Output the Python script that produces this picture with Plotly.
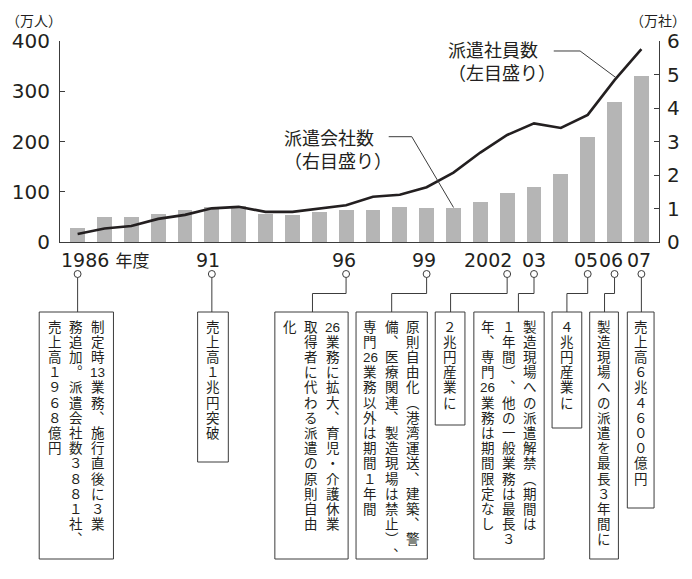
import plotly.graph_objects as go

# ---------------- data ----------------
years = list(range(1986, 2008))
workers = [16, 27, 32, 46, 54, 67, 70, 60, 60, 66, 73, 90, 94, 109, 138, 178, 213, 236, 227, 253, 322, 384]      # 派遣社員数（万人, 左目盛り）
companies = [0.41, 0.75, 0.75, 0.84, 0.96, 1.04, 1.07, 0.84, 0.81, 0.90, 0.96, 0.96, 1.04, 1.01, 1.01, 1.19,
             1.47, 1.64, 2.03, 3.13, 4.18, 4.96]                                                                # 派遣会社数（万社, 右目盛り）

left_ticks = [0, 100, 200, 300, 400]
right_ticks = [0, 1, 2, 3, 4, 5, 6]

label_years = [1986, 1991, 1996, 1999, 2002, 2003, 2005, 2006, 2007]
label_texts = ["1986", "91", "96", "99", "2002", "03", "05", "06", "07"]

note_years = [1986, 1991, 1996, 1999, 2002, 2003, 2005, 2006, 2007]
note_columns = [
    ["制定時13業務、施行直後に３業", "務追加。派遣会社数３８８１社、", "売上高１９６８億円"],
    ["売上高１兆円突破"],
    ["26業務に拡大、育児・介護休業", "取得者に代わる派遣の原則自由", "化"],
    ["原則自由化（港湾運送、建築、警", "備、医療関連、製造現場は禁止）、", "専門26業務以外は期間１年間"],
    ["２兆円産業に"],
    ["製造現場への派遣解禁（期間は", "１年間）、他の一般業務は最長３", "年、専門26業務は期間限定なし"],
    ["４兆円産業に"],
    ["製造現場への派遣を最長３年間に"],
    ["売上高６兆４６００億円"],
]

# ---------------- layout geometry (pixels) ----------------
W, H = 692, 579
L, R, T, B = 58, 29, 41, 337
PW, PH = W - L - R, H - T - B
X0, X1 = 1985.344, 2007.656
INK = "#231f20"
LINEC = "#3c3c3c"
JP = "Liberation Sans, Noto Sans CJK JP"
NUM = "DejaVu Sans"


def xp(px):
    return (px - L) / PW


def yp(py):
    return (T + PH - py) / PH


def year_px(yr):
    return L + (yr - X0) / (X1 - X0) * PW


fig = go.Figure()
fig.add_trace(go.Bar(x=years, y=companies, yaxis="y", marker=dict(color="#b5b5b5", line=dict(width=0)),
                     width=0.553, name="派遣会社数"))
fig.add_trace(go.Scatter(x=years, y=workers, yaxis="y2", mode="lines",
                         line=dict(color=INK, width=2.6), name="派遣社員数"))

annotations = []
shapes = []

# axis unit labels
annotations.append(dict(text="（万人）", x=xp(32), y=yp(21), xref="paper", yref="paper", showarrow=False,
                        xanchor="center", yanchor="middle", font=dict(family=JP, size=14, color=INK)))
annotations.append(dict(text="（万社）", x=xp(662), y=yp(21), xref="paper", yref="paper", showarrow=False,
                        xanchor="center", yanchor="middle", font=dict(family=JP, size=14, color=INK)))

# series labels + leaders
annotations.append(dict(text="派遣社員数<br>（左目盛り）", x=xp(448), y=yp(62.5), xref="paper", yref="paper",
                        showarrow=False, xanchor="left", yanchor="middle", align="left",
                        font=dict(family=JP, size=18, color=INK)))
annotations.append(dict(text="派遣会社数<br>（右目盛り）", x=xp(282), y=yp(150.5), xref="paper", yref="paper",
                        showarrow=False, xanchor="left", yanchor="middle", align="left",
                        font=dict(family=JP, size=18, color=INK)))


def path(pts):
    return "M " + " L ".join(f"{xp(a):.5f},{yp(b):.5f}" for a, b in pts)


shapes.append(dict(type="path", xref="paper", yref="paper", path=path([(556.7, 51), (583.3, 51), (620, 78)]),
                   line=dict(color=LINEC, width=1)))
shapes.append(dict(type="path", xref="paper", yref="paper", path=path([(390, 136.7), (413.3, 136.7), (455.5, 207.5)]),
                   line=dict(color=LINEC, width=1)))

# year labels below axis
label_shift = [None, -4, -2, -3, -19, -0.5, -2, -3.5, -2]
for yr, txt, sh in zip(label_years, label_texts, label_shift):
    if sh is None:
        annotations.append(dict(text="1986 <span style='font-size:17px'>年度</span>", x=xp(57), y=yp(260),
                                xref="paper", yref="paper", showarrow=False, xanchor="left", yanchor="middle",
                                font=dict(family=NUM + ", Noto Sans CJK JP", size=19, color=INK)))
    else:
        annotations.append(dict(text=txt, x=xp(year_px(yr) + sh), y=yp(260), xref="paper", yref="paper",
                                showarrow=False, xanchor="center", yanchor="middle",
                                font=dict(family=NUM, size=19, color=INK)))

# note boxes: x0, x1, bottom, landing x (None = straight down)
boxes = [
    (37, 112, 559, None),
    (197, 228, 462, None),
    (275, 349, 559, 313),
    (357, 429, 559, 393),
    (437, 467, 425, 452.5),
    (476, 547, 559, 521),
    (555, 585, 428, 570),
    (593, 622, 559, 608),
    (631, 658, 508, None),
]
BOX_TOP = 312
CIRC_Y, CIRC_R = 274, 3.5
ELBOW_Y = 293.5
COL_PITCH = 21.7
FS = 13.5
CHAR_PITCH = 15.2
FIRST_CENTER = 327

VMAP = {"、": "︑", "。": "︒", "（": "︵", "）": "︶"}


def cells(s):
    out = []
    i = 0
    while i < len(s):
        c = s[i]
        if c.isascii() and c.isdigit():
            j = i
            while j < len(s) and s[j].isascii() and s[j].isdigit():
                j += 1
            out.append(s[i:j])
            i = j
        else:
            out.append(VMAP.get(c, c))
            i += 1
    return out


for yr, cols, (bx0, bx1, bby, land) in zip(note_years, note_columns, boxes):
    cx = year_px(yr)
    shapes.append(dict(type="circle", xref="paper", yref="paper",
                       x0=xp(cx - CIRC_R), x1=xp(cx + CIRC_R), y0=yp(CIRC_Y + CIRC_R), y1=yp(CIRC_Y - CIRC_R),
                       line=dict(color=LINEC, width=1), fillcolor="white"))
    if land is None:
        pts = [(cx, CIRC_Y + CIRC_R), (cx, BOX_TOP)]
    else:
        pts = [(cx, CIRC_Y + CIRC_R), (cx, ELBOW_Y), (land, ELBOW_Y), (land, BOX_TOP)]
    shapes.append(dict(type="path", xref="paper", yref="paper", path=path(pts), line=dict(color=LINEC, width=1)))
    shapes.append(dict(type="rect", xref="paper", yref="paper", x0=xp(bx0), x1=xp(bx1), y0=yp(bby), y1=yp(BOX_TOP),
                       line=dict(color=LINEC, width=1), fillcolor="rgba(0,0,0,0)"))
    center = (bx0 + bx1) / 2
    n = len(cols)
    for k, col in enumerate(cols):
        colx = center + (n - 1) / 2 * COL_PITCH - k * COL_PITCH
        for i, c in enumerate(cells(col)):
            annotations.append(dict(text=c, x=xp(colx), y=yp(FIRST_CENTER + i * CHAR_PITCH),
                                    xref="paper", yref="paper", showarrow=False,
                                    xanchor="center", yanchor="middle",
                                    font=dict(family=JP, size=FS, color=INK)))

fig.update_layout(
    width=W, height=H, autosize=False,
    margin=dict(l=L, r=R, t=T, b=B, pad=0),
    paper_bgcolor="white", plot_bgcolor="white",
    showlegend=False, bargap=0,
    xaxis=dict(range=[X0, X1], showticklabels=False, ticks="", showgrid=False, zeroline=False,
               showline=True, linecolor=LINEC, linewidth=1),
    yaxis=dict(range=[0, 6], side="right", tickvals=right_ticks, ticks="inside", ticklen=5, tickcolor=LINEC,
               showline=True, linecolor=LINEC, linewidth=1, showgrid=False, zeroline=False,
               tickfont=dict(family=NUM, size=20, color=INK), ticklabelstandoff=3),
    yaxis2=dict(range=[0, 400], side="left", overlaying="y", tickvals=left_ticks, ticks="inside", ticklen=5,
                tickcolor=LINEC, showline=True, linecolor=LINEC, linewidth=1, showgrid=False, zeroline=False,
                tickfont=dict(family=NUM, size=20, color=INK), ticklabelstandoff=5),
    annotations=annotations,
    shapes=shapes,
)

fig.write_html("out.html")
